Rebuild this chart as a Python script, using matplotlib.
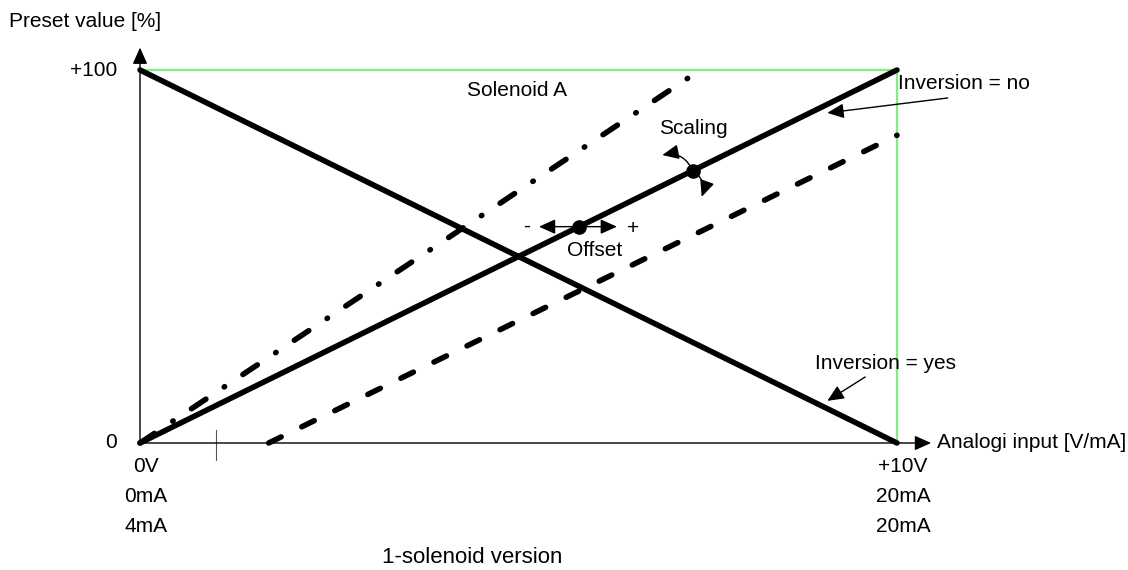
import matplotlib
matplotlib.use("Agg")
import matplotlib.pyplot as plt

plt.rcParams["font.family"] = ["Liberation Sans", "DejaVu Sans"]
plt.rcParams["lines.scale_dashes"] = False

# Kennlinien (x: Eingang 0..10 V, y: Sollwert 0..100 %)
inv_no_x = [0, 10]
inv_no_y = [0, 100]
inv_yes_x = [0, 10]
inv_yes_y = [100, 0]
scale_x = [0, 7.4]
scale_y = [0, 100]
offset_x = [1.7, 10]
offset_y = [0, 82.5]
frame_x = [0, 10, 10]
frame_y = [100, 100, 0]

x_ticks = [0, 10]
x_tick_rows = [["0V", "0mA", "4mA"], ["+10V", "20mA", "20mA"]]
y_ticks = [0, 100]
y_tick_labels = ["0", "+100"]

offset_dot = (5.8, 58)
scaling_dot = (7.3, 73)

fig = plt.figure(figsize=(11.28, 5.7), dpi=100)
ax = fig.add_axes([0, 0, 1, 1])
ax.set_xlim(-140 / 75.7, (1128 - 140) / 75.7)
ax.set_ylim(-(570 - 443) / 3.73, 443 / 3.73)
ax.axis("off")

head = "-|>,head_length=1.0,head_width=0.45"
arr = dict(arrowstyle=head, color="black", lw=1, mutation_scale=10, shrinkA=0, shrinkB=0)

# Achsen
ax.annotate("", xy=(10.45, 0), xytext=(0, 0), arrowprops=arr)
ax.annotate("", xy=(0, 106), xytext=(0, 0), arrowprops=arr)
ax.plot([1, 1], [3.5, -4.6], color="#555555", lw=0.8)

# gruener Rahmen
ax.plot(frame_x, frame_y, color="#80ee80", lw=1.6, zorder=1)

# Linien
thick = 4.0
ax.plot(inv_no_x, inv_no_y, color="black", lw=thick, solid_capstyle="round", zorder=3)
ax.plot(inv_yes_x, inv_yes_y, color="black", lw=thick, solid_capstyle="round", zorder=3)
ax.plot(scale_x, scale_y, color="black", lw=thick, dash_capstyle="round",
        dashes=(12.5, 15.8, 0.4, 15.8), zorder=3)
ax.plot(offset_x, offset_y, color="black", lw=thick, dash_capstyle="round",
        dashes=(10, 16.5), zorder=3)

# Punkte
ax.plot(*offset_dot, "o", color="black", ms=9.5, zorder=4)
ax.plot(*scaling_dot, "o", color="black", ms=9.5, zorder=4)

# Offset-Pfeile
ax.annotate("", xy=(5.27, offset_dot[1]), xytext=offset_dot, arrowprops=arr)
ax.annotate("", xy=(6.30, offset_dot[1]), xytext=offset_dot, arrowprops=arr)

# Scaling-Pfeile
arr_c1 = dict(arr, connectionstyle="arc3,rad=0.4", shrinkA=4)
arr_c2 = dict(arr, connectionstyle="arc3,rad=-0.4", shrinkA=4)
ax.annotate("", xy=(6.9, 77.2), xytext=scaling_dot, arrowprops=arr_c1)
ax.annotate("", xy=(7.42, 66), xytext=scaling_dot, arrowprops=arr_c2)

# Inversion-Pfeile
ax.annotate("", xy=(9.08, 88.5), xytext=(10.67, 92.5), arrowprops=arr)
ax.annotate("", xy=(9.08, 11.3), xytext=(9.58, 17.7), arrowprops=arr)

fs = 15
ax.text(-1.73, 112.9, "Preset value [%]", fontsize=fs, ha="left", va="center")
for yv, lab in zip(y_ticks, y_tick_labels):
    ax.text(-0.3, yv, lab, fontsize=fs, ha="right", va="center")
for xv, rows in zip(x_ticks, x_tick_rows):
    for i, lab in enumerate(rows):
        ax.text(xv + 0.08, -6.2 - 8.05 * i, lab, fontsize=fs, ha="center", va="center")
ax.text(10.53, 0, "Analogi input [V/mA]", fontsize=fs, ha="left", va="center")
ax.text(4.32, 94.4, "Solenoid A", fontsize=fs, ha="left", va="center")
ax.text(7.31, 84.2, "Scaling", fontsize=fs, ha="center", va="center")
ax.text(6.01, 51.7, "Offset", fontsize=fs, ha="center", va="center")
ax.text(5.11, 58, "-", fontsize=fs, ha="center", va="center")
ax.text(6.51, 57.6, "+", fontsize=fs, ha="center", va="center")
ax.text(10.01, 96.5, "Inversion = no", fontsize=fs, ha="left", va="center")
ax.text(8.92, 21.4, "Inversion = yes", fontsize=fs, ha="left", va="center")
ax.text(3.2, -30.8, "1-solenoid version", fontsize=16, ha="left", va="center")

fig.savefig("out.png", dpi=100)
